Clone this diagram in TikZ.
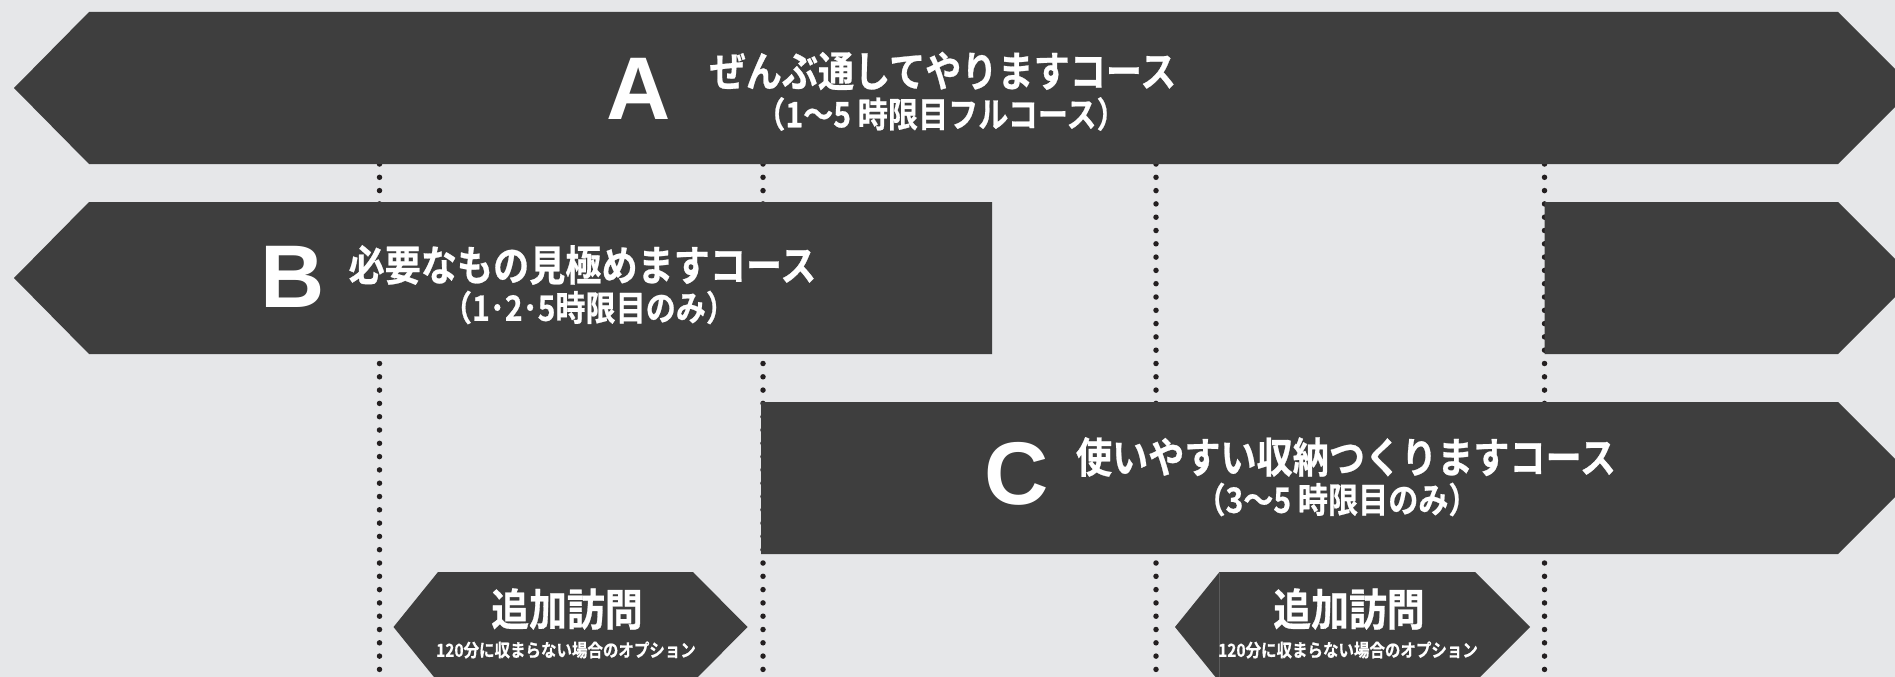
\documentclass[tikz,border=0pt]{standalone}
\usepackage{fontspec}
\newfontfamily\jpb{Noto Sans CJK JP Bold}[FakeStretch=0.86,FakeBold=0.6]
\newfontfamily\latb{Liberation Sans Bold}
\definecolor{bg}{RGB}{230,231,233}
\definecolor{band}{RGB}{62,62,62}
\definecolor{seamc}{RGB}{92,92,92}
\definecolor{dotc}{RGB}{35,31,32}
\begin{document}
\begin{tikzpicture}[x=1pt,y=-1pt,
  bandshape/.style={fill=band,draw=none},
  guide/.style={draw=dotc,line width=5.5pt,line cap=round,dash pattern=on 0pt off 13.3pt},
  letter/.style={text=white,inner sep=0pt,font=\latb\fontsize{89}{89}\selectfont},
  title/.style={text=white,inner sep=0pt,font=\jpb\fontsize{42}{42}\selectfont},
  subtitle/.style={text=white,inner sep=0pt,font=\jpb\fontsize{35}{35}\selectfont},
  hextitle/.style={text=white,inner sep=0pt,font=\jpb\fontsize{44}{44}\selectfont},
  hexsub/.style={text=white,inner sep=0pt,font=\jpb\fontsize{18}{18}\selectfont}]
\fill[bg] (0,0) rectangle (1895,677);
\useasboundingbox (0,0) rectangle (1895,677);
% guide coordinates
\foreach \n/\x in {g1/379.5,g2/763,g3/1156,g4/1544.5}{
  \coordinate (\n t) at (\x,164);
  \coordinate (\n b) at (\x,684);
}
\foreach \n in {g1,g2,g3,g4}{ \draw[guide] (\n t) -- (\n b); }
% A band
\path[bandshape] (14,88) -- (89,12) -- (1838,12) -- (1914,88) -- (1838,164) -- (89,164) -- cycle;
% B band
\path[bandshape] (14,278) -- (89,202) -- (992,202) -- (992,354) -- (89,354) -- cycle;
\path[bandshape] (1544.5,202) -- (1838,202) -- (1914,278) -- (1838,354) -- (1544.5,354) -- cycle;
% C band
\path[bandshape] (761,402) -- (1838,402) -- (1914,478) -- (1838,554) -- (761,554) -- cycle;
% hexagons
\path[bandshape] (393.5,627) -- (438,572) -- (693,572) -- (747.5,627) -- (693,682) -- (438,682) -- cycle;
\path[bandshape] (1175,627) -- (1219.5,572) -- (1475,572) -- (1530,627) -- (1475,682) -- (1219.5,682) -- cycle;
\coordinate (seamt) at (1219.5,572.5);
\coordinate (seamb) at (1219.5,677);
\draw[seamc,line width=0.8pt] (seamt) -- (seamb);
% texts
\node[letter] (la) at (639,89) {A};
\node[title] (ta) at (943,71) {ぜんぶ通してやりますコース};
\node[subtitle] (sa) at (941,114) {（1～5 時限目フルコース）};
\node[letter] (lb) at (293,277) {B};
\node[title] (tb) at (582.5,265) {必要なもの見極めますコース};
\node[subtitle] (sb) at (589,307.5) {（1･2･5時限目のみ）};
\node[letter] (lc) at (1016.5,474) {C};
\node[title] (tc) at (1346,457) {使いやすい収納つくりますコース};
\node[subtitle] (sc) at (1337,499.5) {（3～5 時限目のみ）};
\node[hextitle] (h1) at (567,609) {追加訪問};
\node[hexsub] (s1) at (566,650) {120分に収まらない場合のオプション};
\node[hextitle] (h2) at (1349,609) {追加訪問};
\node[hexsub] (s2) at (1348,650) {120分に収まらない場合のオプション};
\end{tikzpicture}
\end{document}
